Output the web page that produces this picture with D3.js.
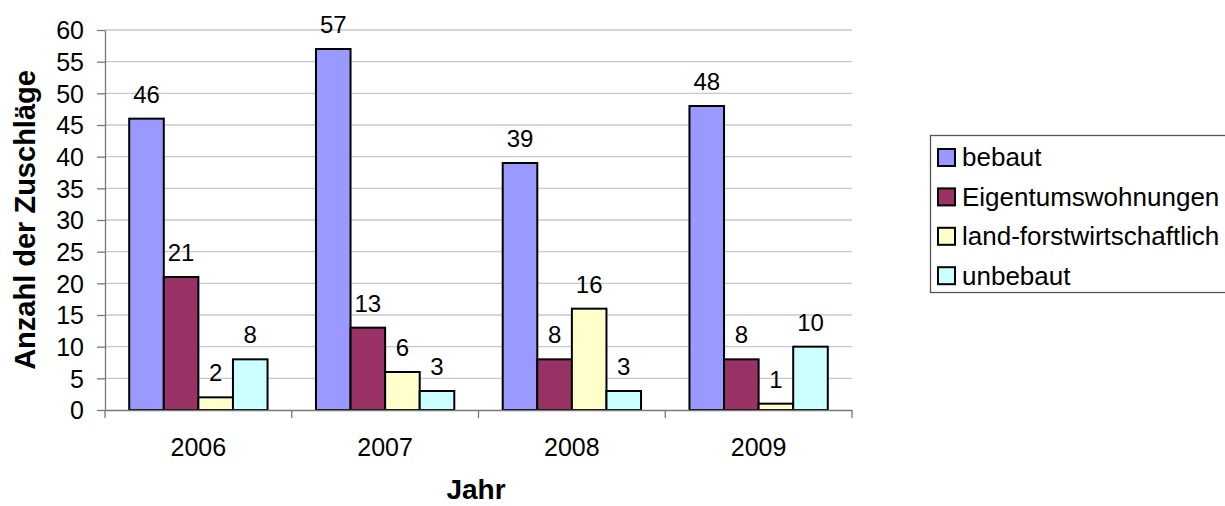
<!DOCTYPE html>
<html>
<head>
<meta charset="utf-8">
<script src="https://cdn.jsdelivr.net/npm/d3@7"></script>
<style>
  html, body { margin: 0; padding: 0; background: #fff; }
  svg { display: block; font-family: "Liberation Sans", Arial, sans-serif; }
</style>
</head>
<body>
<svg id="chart" width="1225" height="506"></svg>
<script>
// Zuschläge je Jahr und Objektart
const years = ["2006", "2007", "2008", "2009"];
const seriesNames = ["bebaut", "Eigentumswohnungen", "land-forstwirtschaftlich", "unbebaut"];
const bebaut = [46, 57, 39, 48];
const eigentumswohnungen = [21, 13, 8, 8];
const landForst = [2, 6, 16, 1];
const unbebaut = [8, 3, 3, 10];
const yTicks = [0, 5, 10, 15, 20, 25, 30, 35, 40, 45, 50, 55, 60];
const colors = ["#9999FF", "#993366", "#FFFFCC", "#CCFFFF"];

const seriesValues = [bebaut, eigentumswohnungen, landForst, unbebaut];

const svg = d3.select("#chart");
const plot = { left: 105, right: 852, top: 30, bottom: 410 };

const x = d3.scaleBand().domain(years).range([plot.left, plot.right]).paddingInner(0).paddingOuter(0);
const y = d3.scaleLinear().domain([0, 60]).range([plot.bottom, plot.top]);

// gap between groups is 1.4 bar widths
const barW = x.bandwidth() / (seriesNames.length + 1.4);
const groupOffset = barW * 0.7;

// gridlines
svg.append("g")
  .selectAll("line")
  .data(yTicks.filter(d => d > 0))
  .join("line")
  .attr("x1", plot.left).attr("x2", plot.right)
  .attr("y1", d => y(d)).attr("y2", d => y(d))
  .attr("stroke", "#c8c8c8").attr("stroke-width", 1.3);

// bars
const rows = [];
years.forEach((yr, i) => {
  seriesValues.forEach((vals, s) => {
    rows.push({ year: yr, s, value: vals[i] });
  });
});

svg.append("g")
  .selectAll("rect")
  .data(rows)
  .join("rect")
  .attr("x", d => x(d.year) + groupOffset + d.s * barW)
  .attr("y", d => y(d.value))
  .attr("width", barW)
  .attr("height", d => y(0) - y(d.value))
  .attr("fill", d => colors[d.s])
  .attr("stroke", "#000")
  .attr("stroke-width", 2);

// value labels
svg.append("g")
  .selectAll("text")
  .data(rows)
  .join("text")
  .attr("x", d => x(d.year) + groupOffset + d.s * barW + barW / 2)
  .attr("y", d => y(d.value) - 16)
  .attr("text-anchor", "middle")
  .attr("font-size", 24)
  .attr("fill", "#000")
  .text(d => d.value);

// y axis
const yAxis = svg.append("g")
  .attr("transform", `translate(${plot.left},0)`)
  .call(d3.axisLeft(y).tickValues(yTicks).tickSize(8).tickPadding(13).tickSizeOuter(0));
yAxis.select(".domain").attr("stroke", "#777").attr("stroke-width", 1.3);
yAxis.selectAll(".tick line").attr("stroke", "#777").attr("stroke-width", 1.3);
yAxis.selectAll(".tick text")
  .attr("font-size", 25).attr("font-family", "Liberation Sans, Arial, sans-serif")
  .attr("fill", "#000").attr("dy", "0.35em");

// x axis
const xAxis = svg.append("g")
  .attr("transform", `translate(0,${plot.bottom})`)
  .call(d3.axisBottom(x).tickSize(0).tickPadding(28).tickSizeOuter(0));
xAxis.select(".domain").attr("stroke", "#777").attr("stroke-width", 1.3);
xAxis.selectAll(".tick text")
  .attr("font-size", 25).attr("font-family", "Liberation Sans, Arial, sans-serif")
  .attr("fill", "#000");

// category separators on x axis
const bounds = years.map(d => x(d)).concat([x(years[years.length - 1]) + x.bandwidth()]);
svg.append("g")
  .selectAll("line")
  .data(bounds)
  .join("line")
  .attr("x1", d => d).attr("x2", d => d)
  .attr("y1", plot.bottom).attr("y2", plot.bottom + 8)
  .attr("stroke", "#777").attr("stroke-width", 1.3);

// axis titles
svg.append("text")
  .attr("transform", `translate(35,${(plot.top + plot.bottom) / 2}) rotate(-90)`)
  .attr("text-anchor", "middle")
  .attr("font-size", 29).attr("font-weight", "bold")
  .text("Anzahl der Zuschläge");

svg.append("text")
  .attr("x", 476).attr("y", 499)
  .attr("text-anchor", "middle")
  .attr("font-size", 28).attr("font-weight", "bold")
  .text("Jahr");

// legend
const legend = svg.append("g");
legend.append("rect")
  .attr("x", 930.5).attr("y", 135.5)
  .attr("width", 300).attr("height", 157)
  .attr("fill", "#fff").attr("stroke", "#555").attr("stroke-width", 1.3);

const items = legend.selectAll("g.item")
  .data(seriesNames)
  .join("g")
  .attr("class", "item")
  .attr("transform", (d, i) => `translate(938,${157 + i * 39.4})`);

items.append("rect")
  .attr("x", 0).attr("y", -8)
  .attr("width", 17).attr("height", 17)
  .attr("fill", (d, i) => colors[i])
  .attr("stroke", "#000").attr("stroke-width", 2);

items.append("text")
  .attr("x", 24).attr("y", 0).attr("dy", "0.36em")
  .attr("font-size", 26)
  .text(d => d);
</script>
</body>
</html>
